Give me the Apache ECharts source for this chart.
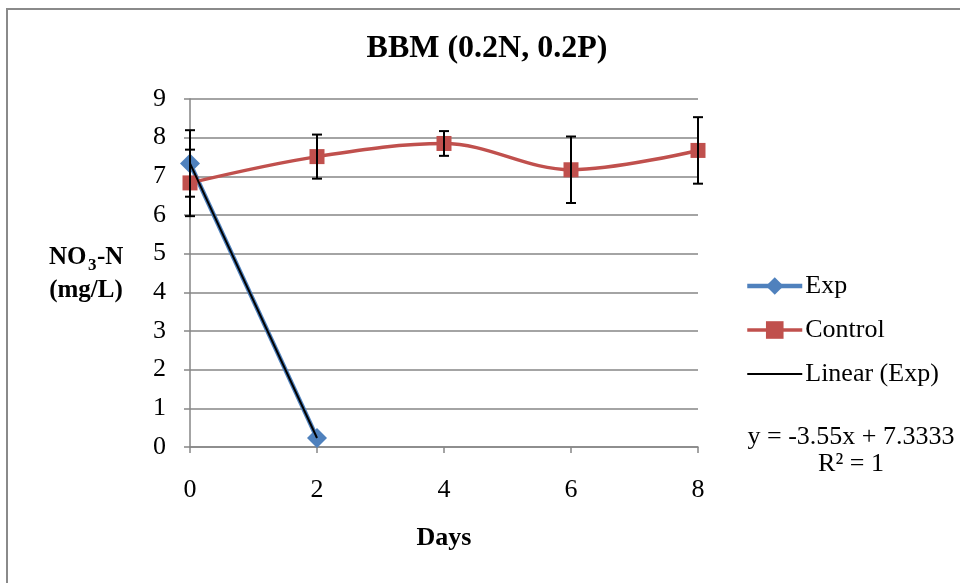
<!DOCTYPE html>
<html>
<head>
<meta charset="utf-8">
<script src="https://cdn.jsdelivr.net/npm/echarts@6/dist/echarts.min.js"></script>
<style>html,body{margin:0;padding:0;background:#fff}#c{width:960px;height:583px}</style>
</head>
<body>
<div id="c"></div>
<script>
var days = [0, 2, 4, 6, 8];
var expDays = [0, 2];
var expValues = [7.3333, 0.2333];
var expErrors = [0.86, 0];
var controlValues = [6.83, 7.51, 7.85, 7.17, 7.67];
var controlErrors = [0.86, 0.57, 0.32, 0.86, 0.86];
var trendDays = [0, 2];
var trendValues = [7.3333, 0.2333];
var xTicks = [0, 2, 4, 6, 8];
var yTicks = [0, 1, 2, 3, 4, 5, 6, 7, 8, 9];
var equationText = 'y = -3.55x + 7.3333';
var r2Text = 'R² = 1';

var FONT = '"Liberation Serif", "Times New Roman", serif';
var GRID = '#868686';

function pairs(xs, ys) { return xs.map(function (x, i) { return [x, ys[i]]; }); }
var errData = [];
expDays.forEach(function (d, i) { if (expErrors[i] > 0) errData.push([d, expValues[i] - expErrors[i], expValues[i] + expErrors[i]]); });
days.forEach(function (d, i) { errData.push([d, controlValues[i] - controlErrors[i], controlValues[i] + controlErrors[i]]); });

var chart = echarts.init(document.getElementById('c'));
chart.setOption({
  animation: false,
  backgroundColor: '#fff',
  textStyle: { fontFamily: FONT },
  title: {
    text: 'BBM (0.2N, 0.2P)', left: 482, top: 28, textAlign: 'center',
    textStyle: { fontFamily: FONT, fontSize: 32, fontWeight: 'bold', color: '#000' }
  },
  grid: { left: 190, right: 262, top: 99, bottom: 136 },
  xAxis: {
    type: 'value', min: xTicks[0], max: xTicks[xTicks.length - 1], interval: 2,
    axisLine: { lineStyle: { color: GRID, width: 1.5 } },
    axisTick: { show: true, length: 6, lineStyle: { color: GRID, width: 1.5 } },
    axisLabel: { color: '#000', fontFamily: FONT, fontSize: 26, margin: 30 },
    splitLine: { show: false }
  },
  yAxis: {
    type: 'value', min: yTicks[0], max: yTicks[yTicks.length - 1], interval: 1,
    axisLine: { show: true, lineStyle: { color: GRID, width: 1.5 } },
    axisTick: { show: true, length: 6, lineStyle: { color: GRID, width: 1.5 } },
    axisLabel: { color: '#000', fontFamily: FONT, fontSize: 26, margin: 24 },
    splitLine: { show: true, lineStyle: { color: GRID, width: 1.5 } }
  },
  legend: {
    orient: 'vertical', left: 745, top: 273, padding: 0, itemWidth: 55, itemHeight: 22, itemGap: 18,
    textStyle: { fontFamily: FONT, fontSize: 26, color: '#000', padding: [0, 0, 0, -2] },
    data: [
      { name: 'Exp', lineStyle: { width: 4.5 } },
      { name: 'Control', lineStyle: { width: 3.5 } },
      { name: 'Linear (Exp)', lineStyle: { width: 2 }, itemStyle: { opacity: 0 } }
    ]
  },
  series: [
    {
      name: 'Exp', type: 'line', data: pairs(expDays, expValues),
      symbol: 'diamond', symbolSize: 20,
      lineStyle: { color: '#4f81bd', width: 4.5 }, itemStyle: { color: '#4f81bd' }, z: 3
    },
    {
      name: 'Linear (Exp)', type: 'line', data: pairs(trendDays, trendValues),
      symbol: 'none', lineStyle: { color: '#000', width: 2 }, itemStyle: { color: '#000' }, z: 4
    },
    {
      name: 'Control', type: 'line', data: pairs(days, controlValues), smooth: 0.35,
      symbol: 'rect', symbolSize: 15,
      lineStyle: { color: '#c0504d', width: 3.5 }, itemStyle: { color: '#c0504d' }, z: 3
    },
    {
      type: 'custom', name: 'err', data: errData, z: 5, silent: true,
      renderItem: function (params, api) {
        var x = api.value(0);
        var lo = api.coord([x, api.value(1)]);
        var hi = api.coord([x, api.value(2)]);
        var w = 5;
        var st = { stroke: '#000', lineWidth: 2 };
        return {
          type: 'group', children: [
            { type: 'line', shape: { x1: lo[0], y1: lo[1], x2: hi[0], y2: hi[1] }, style: st },
            { type: 'line', shape: { x1: lo[0] - w, y1: lo[1], x2: lo[0] + w, y2: lo[1] }, style: st },
            { type: 'line', shape: { x1: hi[0] - w, y1: hi[1], x2: hi[0] + w, y2: hi[1] }, style: st }
          ]
        };
      }
    }
  ],
  graphic: [
    { type: 'rect', shape: { x: 7, y: 9, width: 1000, height: 700 }, style: { fill: 'none', stroke: '#8a8a8a', lineWidth: 2 }, silent: true, z: -10 },
    { type: 'text', x: 444, y: 538, style: { text: 'Days', font: 'bold 26px ' + FONT, fill: '#000', textAlign: 'center', textVerticalAlign: 'middle' } },
    { type: 'text', x: 49, y: 258, style: { text: 'NO', font: 'bold 25px ' + FONT, fill: '#000', textAlign: 'left', textVerticalAlign: 'middle' } },
    { type: 'text', x: 88, y: 266, style: { text: '3', font: 'bold 17px ' + FONT, fill: '#000', textAlign: 'left', textVerticalAlign: 'middle' } },
    { type: 'text', x: 97, y: 258, style: { text: '-N', font: 'bold 25px ' + FONT, fill: '#000', textAlign: 'left', textVerticalAlign: 'middle' } },
    { type: 'text', x: 86, y: 291, style: { text: '(mg/L)', font: 'bold 25px ' + FONT, fill: '#000', textAlign: 'center', textVerticalAlign: 'middle' } },
    { type: 'text', x: 851, y: 437, style: { text: equationText, font: '26px ' + FONT, fill: '#000', textAlign: 'center', textVerticalAlign: 'middle' } },
    { type: 'text', x: 851, y: 464, style: { text: r2Text, font: '26px ' + FONT, fill: '#000', textAlign: 'center', textVerticalAlign: 'middle' } }
  ]
});
</script>
</body>
</html>
